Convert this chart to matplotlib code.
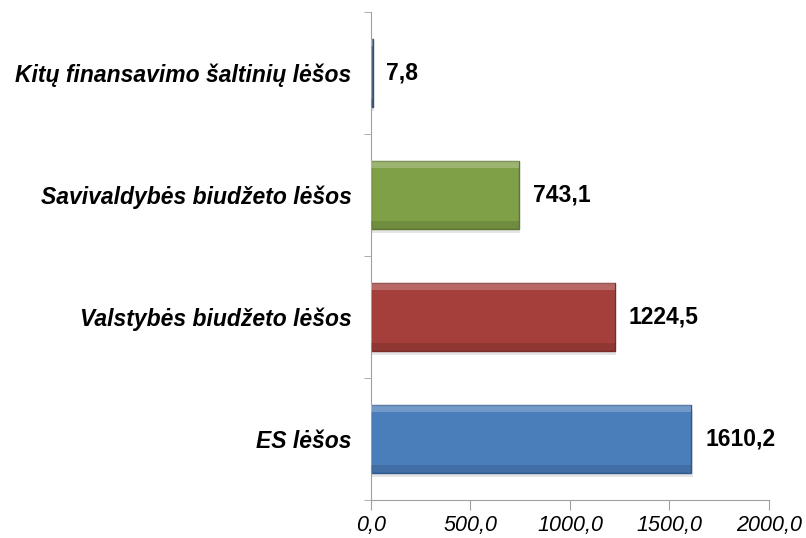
import matplotlib
matplotlib.use("Agg")
import matplotlib.pyplot as plt
import numpy as np

categories = ["ES lėšos", "Valstybės biudžeto lėšos", "Savivaldybės biudžeto lėšos", "Kitų finansavimo šaltinių lėšos"]
values = [1610.2, 1224.5, 743.1, 7.8]
value_labels = ["1610,2", "1224,5", "743,1", "7,8"]
xticks = [0, 500, 1000, 1500, 2000]
xtick_labels = ["0,0", "500,0", "1000,0", "1500,0", "2000,0"]

colors = ["#4a7ebb", "#a53f3c", "#80a048", "#4f6a8f"]
edges = ["#2f5b8f", "#7a2b29", "#5d7632", "#3a4f6e"]

plt.rcParams['font.family'] = ['Liberation Sans', 'DejaVu Sans']

fig = plt.figure(figsize=(8.06, 5.38), dpi=100)
ax = fig.add_axes([0.4603, 0.0706, 0.954 - 0.4603, 0.9777 - 0.0706])

y = np.arange(len(categories))
h = 0.55
# shadow
ax.barh(y - 0.035, values, height=h, left=6, color="#000000", alpha=0.10, zorder=1, linewidth=0)
ax.barh(y, values, height=h, color=colors, edgecolor=edges, linewidth=1.0, zorder=2)
# bevel highlights
for yi, v in zip(y, values):
    ax.barh(yi + h / 2 - 0.025, v, height=0.05, color="white", alpha=0.22, zorder=3, linewidth=0)
    ax.barh(yi - h / 2 + 0.03, v, height=0.06, color="black", alpha=0.12, zorder=3, linewidth=0)

for yi, v, lab in zip(y, values, value_labels):
    ax.annotate(lab, (v, yi), xytext=(10, 0), textcoords="offset points",
                va="center", ha="left", fontsize=16.5, fontweight="bold")

ax.set_xlim(0, 2000)
ax.set_ylim(-0.5, len(categories) - 0.5)
ax.set_xticks(xticks)
ax.set_xticklabels(xtick_labels, fontsize=15.5, fontstyle="italic")
ax.set_yticks(y)
ax.set_yticklabels(categories, fontsize=16.5, fontweight="bold", fontstyle="italic")
ax.tick_params(axis="y", length=0, pad=14)
ax.set_yticks(np.arange(-0.5, len(categories), 1.0), minor=True)
ax.tick_params(axis="y", which="minor", length=5, color="#a0a0a0", direction="out")
ax.tick_params(axis="x", length=7, color="#a0a0a0", direction="out", pad=4)

for s in ["top", "right"]:
    ax.spines[s].set_visible(False)
for s in ["left", "bottom"]:
    ax.spines[s].set_color("#a0a0a0")

fig.savefig("out.png", dpi=100)
